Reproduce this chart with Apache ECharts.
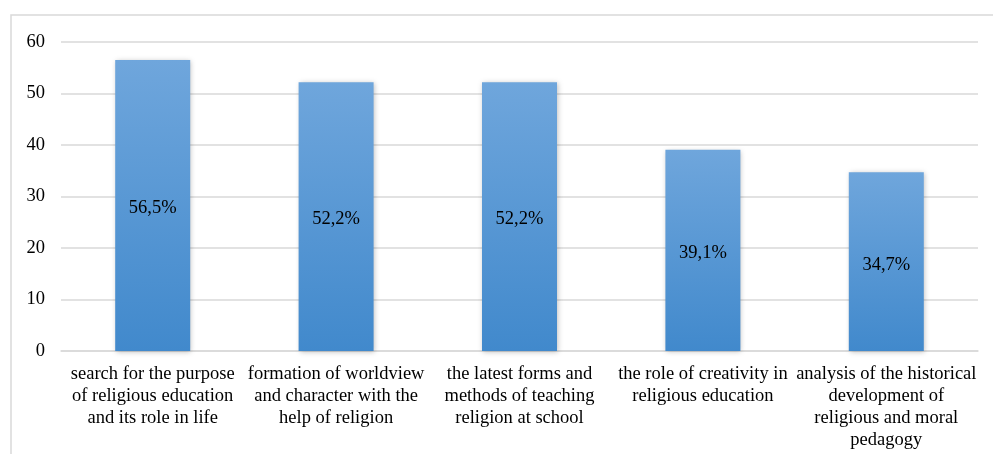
<!DOCTYPE html>
<html><head><meta charset="utf-8">
<script src="https://cdn.jsdelivr.net/npm/echarts@6/dist/echarts.min.js"></script>
<style>html,body{margin:0;padding:0;background:#fff}#c{width:993px;height:454px}</style>
</head><body><div id="c"></div>
<script>
const categories = [
  "search for the purpose\nof religious education\nand its role in life",
  "formation of worldview\nand character with the\nhelp of religion",
  "the latest forms and\nmethods of teaching\nreligion at school",
  "the role of creativity in\nreligious education",
  "analysis of the historical\ndevelopment of\nreligious and moral\npedagogy"
];
const values = [56.5, 52.2, 52.2, 39.1, 34.7];
const valueLabels = ["56,5%", "52,2%", "52,2%", "39,1%", "34,7%"];
const yTicks = [0, 10, 20, 30, 40, 50, 60];

const chart = echarts.init(document.getElementById('c'));
const font = "'Liberation Serif','Times New Roman',serif";
chart.setOption({
  animation: false,
  graphic: [{type:'rect', left:8.5, top:12.5, shape:{width:983, height:600}, style:{fill:'none', stroke:'#d9d9d9', lineWidth:1.5}, silent:true}],
  grid: {left: 61, right: 15, top: 42, bottom: 103},
  xAxis: {
    type: 'category', data: categories,
    axisTick: {show: false},
    axisLine: {lineStyle: {color: '#d9d9d9', width: 1.5}},
    axisLabel: {color: '#000', fontFamily: font, fontSize: 18.5, lineHeight: 22, margin: 12, interval: 0}
  },
  yAxis: {
    type: 'value', min: yTicks[0], max: yTicks[yTicks.length-1], interval: 10,
    axisLine: {show: false}, axisTick: {show: false},
    splitLine: {lineStyle: {color: '#d9d9d9', width: 1.5}},
    axisLabel: {color: '#000', fontFamily: font, fontSize: 18.5, margin: 16}
  },
  series: [{
    type: 'bar', data: values, barWidth: 75,
    itemStyle: {
      color: new echarts.graphic.LinearGradient(0,0,0,1,[{offset:0,color:'#6fa6dc'},{offset:1,color:'#4189cc'}]),
      shadowColor: 'rgba(0,0,0,0.25)', shadowBlur: 5, shadowOffsetX: 1, shadowOffsetY: 1
    },
    label: {
      show: true, position: 'inside', color: '#000', fontFamily: font, fontSize: 18.5, offset: [0, 3],
      formatter: p => valueLabels[p.dataIndex]
    }
  }]
});
</script></body></html>
